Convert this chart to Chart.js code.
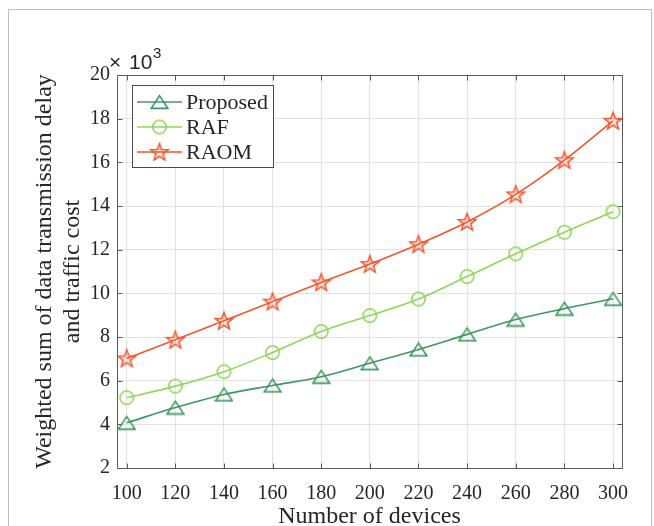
<!DOCTYPE html>
<html><head><meta charset="utf-8">
<script src="https://cdn.jsdelivr.net/npm/chart.js@4.4.1/dist/chart.umd.min.js"></script>
<style>
html,body{margin:0;padding:0;background:#fff;overflow:hidden;}
#wrap{position:relative;width:654px;height:526px;}
#frame{position:absolute;left:8px;top:9px;width:644px;height:540px;border:1px solid #bdbdbd;box-sizing:border-box;}
canvas{position:absolute;left:0;top:0;}
</style></head><body>
<div id="wrap"><div id="frame"></div><canvas id="c" width="654" height="526"></canvas></div>
<script>
// ---- data (values in units of 10^3) ----
const devices  = [100,120,140,160,180,200,220,240,260,280,300];
const proposed = [4.07,4.77,5.37,5.78,6.18,6.80,7.43,8.12,8.80,9.30,9.75];
const raf      = [5.22,5.75,6.41,7.29,8.25,8.98,9.74,10.77,11.81,12.80,13.74];
const raom     = [7.02,7.87,8.74,9.62,10.50,11.34,12.25,13.27,14.53,16.10,17.90];
const xTicks   = [100,120,140,160,180,200,220,240,260,280,300];
const yTicks   = [2,4,6,8,10,12,14,16,18,20];
const seriesNames = ['Proposed','RAF','RAOM'];

const colors = ['#3c9862','#8fd65c','#f4552b'];
const AXIS = '#5a5a5a', GRID = '#e2e2e2', TXT = '#262626';
const SERIF = "'Liberation Serif', 'Times New Roman', serif";
const SANS = "'Liberation Sans', Arial, sans-serif";

function mkCanvas(w,h){const c=document.createElement('canvas');c.width=w;c.height=h;return c;}
function triMarker(color){
  const w=19,h=16,c=mkCanvas(w,h),g=c.getContext('2d');
  g.strokeStyle=color;g.lineWidth=1.6;g.lineJoin='miter';
  g.beginPath();g.moveTo(w/2,1.6);g.lineTo(w-1.2,h-1.6);g.lineTo(1.2,h-1.6);g.closePath();g.stroke();
  return c;
}
function circMarker(color){
  const s=17,c=mkCanvas(s,s),g=c.getContext('2d');
  g.strokeStyle=color;g.lineWidth=1.6;
  g.beginPath();g.arc(s/2,s/2,6.7,0,Math.PI*2);g.stroke();
  return c;
}
function starMarker(color){
  const s=22,c=mkCanvas(s,s),g=c.getContext('2d');
  const R=9.2,r=R*0.42,cx=s/2,cy=s/2+0.6;
  g.strokeStyle=color;g.lineWidth=1.5;g.lineJoin='miter';
  g.beginPath();
  for(let i=0;i<10;i++){const a=-Math.PI/2+i*Math.PI/5;const rr=i%2?r:R;
    const px=cx+rr*Math.cos(a),py=cy+rr*Math.sin(a); i?g.lineTo(px,py):g.moveTo(px,py);}
  g.closePath();g.stroke();
  g.globalAlpha=0.45;g.lineWidth=0.8;
  g.beginPath();
  for(let i=0;i<10;i++){const a=-Math.PI/2+i*Math.PI/5;const rr=(i%2?r:R)*0.55;
    const px=cx+rr*Math.cos(a),py=cy+rr*Math.sin(a); i?g.lineTo(px,py):g.moveTo(px,py);}
  g.closePath();g.stroke();
  return c;
}
const markers=[triMarker(colors[0]),circMarker(colors[1]),starMarker(colors[2])];
const seriesData=[proposed,raf,raom];

const datasets = seriesData.map((arr,k)=>({
  label: seriesNames[k],
  data: arr.map((v,i)=>({x:devices[i],y:v})),
  borderColor: colors[k],
  backgroundColor: colors[k],
  borderWidth: 1.6,
  pointStyle: markers[k],
  pointRadius: 8,
  pointHoverRadius: 8,
  cubicInterpolationMode: 'monotone',
  fill: false,
  clip: false
}));

const decor = {
  id:'decor',
  beforeDatasetsDraw(chart){
    const {ctx,chartArea:a,scales:{x,y}} = chart;
    ctx.save();
    ctx.strokeStyle=AXIS;ctx.lineWidth=1;
    const L=Math.round(a.left)+0.5,R=Math.round(a.right)+0.5,T=Math.round(a.top)+0.5,B=Math.round(a.bottom)+0.5;
    ctx.beginPath();
    ctx.moveTo(L,T);ctx.lineTo(R,T);ctx.lineTo(R,B);ctx.lineTo(L,B);ctx.closePath();
    const tl=5;
    xTicks.forEach(v=>{const px=Math.round(x.getPixelForValue(v))+0.5;
      ctx.moveTo(px,B);ctx.lineTo(px,B-tl);ctx.moveTo(px,T);ctx.lineTo(px,T+tl);});
    yTicks.forEach(v=>{const py=Math.round(y.getPixelForValue(v))+0.5;
      ctx.moveTo(L,py);ctx.lineTo(L+tl,py);ctx.moveTo(R,py);ctx.lineTo(R-tl,py);});
    ctx.stroke();
    ctx.restore();
  },
  afterDatasetsDraw(chart){
    const {ctx,chartArea:a} = chart;
    ctx.save();
    // exponent label
    ctx.fillStyle=TXT;ctx.textBaseline='alphabetic';ctx.textAlign='left';
    ctx.font='21px '+SANS;
    ctx.fillText('\u00d7',a.left-8,a.top-6);
    ctx.fillText('10',a.left+12,a.top-6);
    ctx.font='15px '+SANS;
    ctx.fillText('3',a.left+36,a.top-17);
    // legend
    const bx=132.5,by=85.5,bw=141,bh=82;
    ctx.fillStyle='#fff';ctx.fillRect(bx,by,bw,bh);
    ctx.strokeStyle='#4a4a4a';ctx.lineWidth=1;ctx.strokeRect(bx,by,bw,bh);
    const rows=[102,127,152];
    ctx.font='22px '+SERIF;ctx.textBaseline='middle';
    seriesNames.forEach((n,k)=>{
      const yy=rows[k];
      ctx.strokeStyle=colors[k];ctx.lineWidth=1.6;
      ctx.beginPath();ctx.moveTo(137,yy);ctx.lineTo(182,yy);ctx.stroke();
      const m=markers[k];ctx.drawImage(m,159.5-m.width/2,yy-m.height/2);
      ctx.fillStyle=TXT;ctx.fillText(n,186,yy+1);
    });
    ctx.restore();
  }
};

new Chart(document.getElementById('c'),{
  type:'line',
  data:{datasets},
  options:{
    responsive:false,animation:false,
    layout:{padding:{left:0,right:32,top:75,bottom:0}},
    plugins:{legend:{display:false},tooltip:{enabled:false}},
    scales:{
      x:{type:'linear',min:96,max:303.7,
        afterBuildTicks:s=>{s.ticks=xTicks.map(v=>({value:v}));},
        afterFit:s=>{s.height=58;},
        grid:{color:GRID,lineWidth:1,drawTicks:false},
        border:{display:false},
        ticks:{font:{family:SERIF,size:20},color:TXT,padding:14,maxRotation:0,autoSkip:false},
        title:{display:true,text:'Number of devices',font:{family:SERIF,size:24},color:TXT,padding:{top:0,bottom:-5}}
      },
      y:{type:'linear',min:2,max:20,
        afterBuildTicks:s=>{s.ticks=yTicks.map(v=>({value:v}));},
        afterFit:s=>{s.width=117;},
        grid:{color:GRID,lineWidth:1,drawTicks:false},
        border:{display:false},
        ticks:{font:{family:SERIF,size:20},color:TXT,padding:7,autoSkip:false},
        title:{display:true,text:['Weighted sum of data transmission delay','and traffic cost'],font:{family:SERIF,size:24},color:TXT,padding:{top:30,bottom:0}}
      }
    }
  },
  plugins:[decor]
});
</script>
</body></html>
